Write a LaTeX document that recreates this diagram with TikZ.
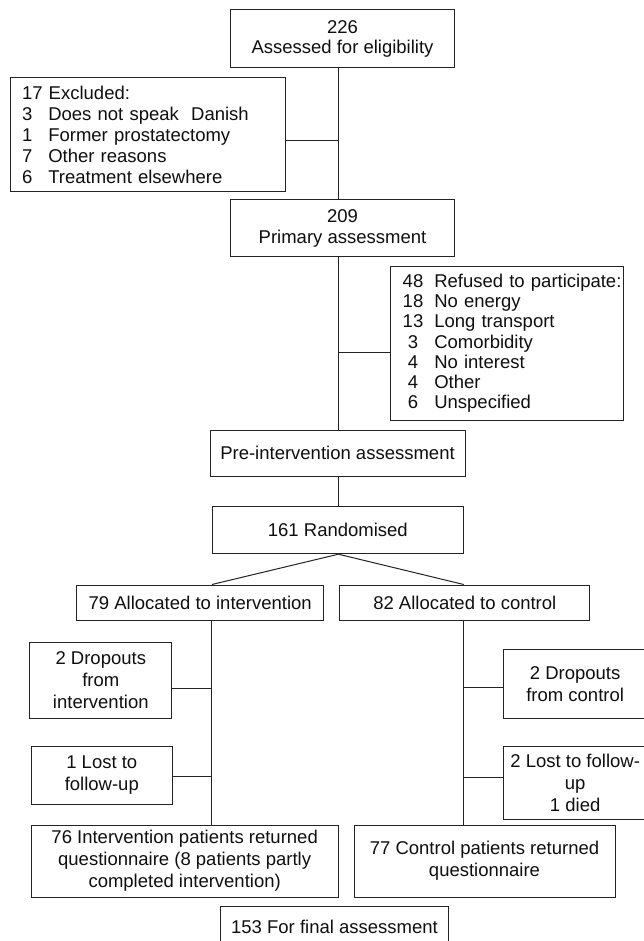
\documentclass[tikz,border=0pt]{standalone}
\usepackage{fontspec}
\setmainfont{Liberation Sans}
\definecolor{linec}{RGB}{35,35,35}
\definecolor{txtc}{RGB}{15,15,15}
\newcommand\exn[1]{\makebox[26.3pt][l]{#1}}
\newcommand\rfn[1]{\makebox[31.6pt][l]{\makebox[20.6pt][c]{#1}}}
\begin{document}
\begin{tikzpicture}[x=1pt,y=-1pt,
  box/.style={draw=linec, line width=1pt, inner sep=0pt, align=center,
    font=\fontsize{18.5}{22}\selectfont, text=txtc},
  link/.style={draw=linec, line width=1pt}]
\useasboundingbox (0,0) rectangle (643,941);
\fill[white] (0,0) rectangle (643,941);

% top part
\node[box, minimum width=223.6pt, minimum height=57.7pt,
  font=\fontsize{18.5}{20.5}\selectfont] (n226) at (342.5,38.85)
  {226\\Assessed for eligibility};
\node[box, align=left, text width=252.4pt, inner xsep=11.3pt,
  minimum height=113.7pt, font=\fontsize{18.5}{21.2}\selectfont] (excl) at (148.2,134.85)
  {17 Excluded:\\\exn{3}Does not speak\ \ Danish\\\exn{1}Former prostatectomy\\\exn{7}Other reasons\\\exn{6}Treatment elsewhere};
\node[box, minimum width=223.6pt, minimum height=57.4pt,
  font=\fontsize{18.5}{21}\selectfont] (n209) at (342.5,228)
  {209\\Primary assessment};
\node[box, align=left, text width=208.3pt, inner xsep=12pt,
  minimum height=154.7pt, font=\fontsize{18.5}{20.2}\selectfont] (ref) at (506.85,343.35)
  {\mbox{\rfn{48}Refused to participate:}\\\mbox{\rfn{18}No energy}\\\mbox{\rfn{13}Long transport}\\\mbox{\rfn{3}Comorbidity}\\\mbox{\rfn{4}No interest}\\\mbox{\rfn{4}Other}\\\mbox{\rfn{6}Unspecified}};
\node[box, minimum width=255pt, minimum height=46.3pt] (pre) at (337.5,453.15)
  {Pre-intervention assessment};
\node[box, minimum width=250.3pt, minimum height=47pt] (rand) at (337.85,530.2)
  {161 Randomised};

% allocation
\node[box, minimum width=247.2pt, minimum height=35.3pt] (ai) at (200.2,602.65)
  {79 Allocated to intervention};
\node[box, minimum width=250pt, minimum height=35.3pt] (ac) at (464.8,602.65)
  {82 Allocated to control};

% intervention arm
\node[box, minimum width=141.8pt, minimum height=75.6pt] (dropi) at (100.8,680.5)
  {2 Dropouts\\from\\intervention};
\node[box, minimum width=141.4pt, minimum height=58pt] (losti) at (101.8,775.3)
  {1 Lost to\\follow-up};
\node[box, minimum width=307.1pt, minimum height=72pt] (resi) at (184.65,861)
  {76 Intervention patients returned\\questionnaire (8 patients partly\\completed intervention)};

% control arm
\node[box, minimum width=143.7pt, minimum height=69pt] (dropc) at (575.15,683.8)
  {2 Dropouts\\from control};
\node[box, minimum width=143.7pt, minimum height=72.5pt] (lostc) at (575.15,782.75)
  {2 Lost to follow-\\up\\1 died};
\node[box, minimum width=261pt, minimum height=72pt] (resc) at (484.5,861)
  {77 Control patients returned\\questionnaire};

% final
\node[box, minimum width=227.6pt, minimum height=41pt] (fin) at (334.5,926.5)
  {153 For final assessment};

% connectors
\coordinate (sp) at (338.4,0);
\coordinate (li) at (211.9,0);
\coordinate (ri) at (463.7,0);
\draw[link] (n226.south -| sp) -- (n209.north -| sp);
\coordinate (b1) at (338.4,140.3);
\draw[link] (b1) -- (b1 -| excl.east);
\draw[link] (n209.south -| sp) -- (pre.north -| sp);
\coordinate (b2) at (338.4,352.7);
\draw[link] (b2) -- (b2 -| ref.west);
\draw[link] (pre.south -| sp) -- (rand.north -| sp);
\draw[link] (rand.south -| sp) -- (ai.north -| li);
\draw[link] (rand.south -| sp) -- (ac.north -| ri);
\draw[link] (ai.south -| li) -- (resi.north -| li);
\coordinate (b3) at (211.9,688.3);
\draw[link] (b3) -- (b3 -| dropi.east);
\coordinate (b4) at (211.9,776.7);
\draw[link] (b4) -- (b4 -| losti.east);
\draw[link] (ac.south -| ri) -- (resc.north -| ri);
\coordinate (b5) at (463.7,687.7);
\draw[link] (b5) -- (b5 -| dropc.west);
\coordinate (b6) at (463.7,777.3);
\draw[link] (b6) -- (b6 -| lostc.west);
\end{tikzpicture}
\end{document}
